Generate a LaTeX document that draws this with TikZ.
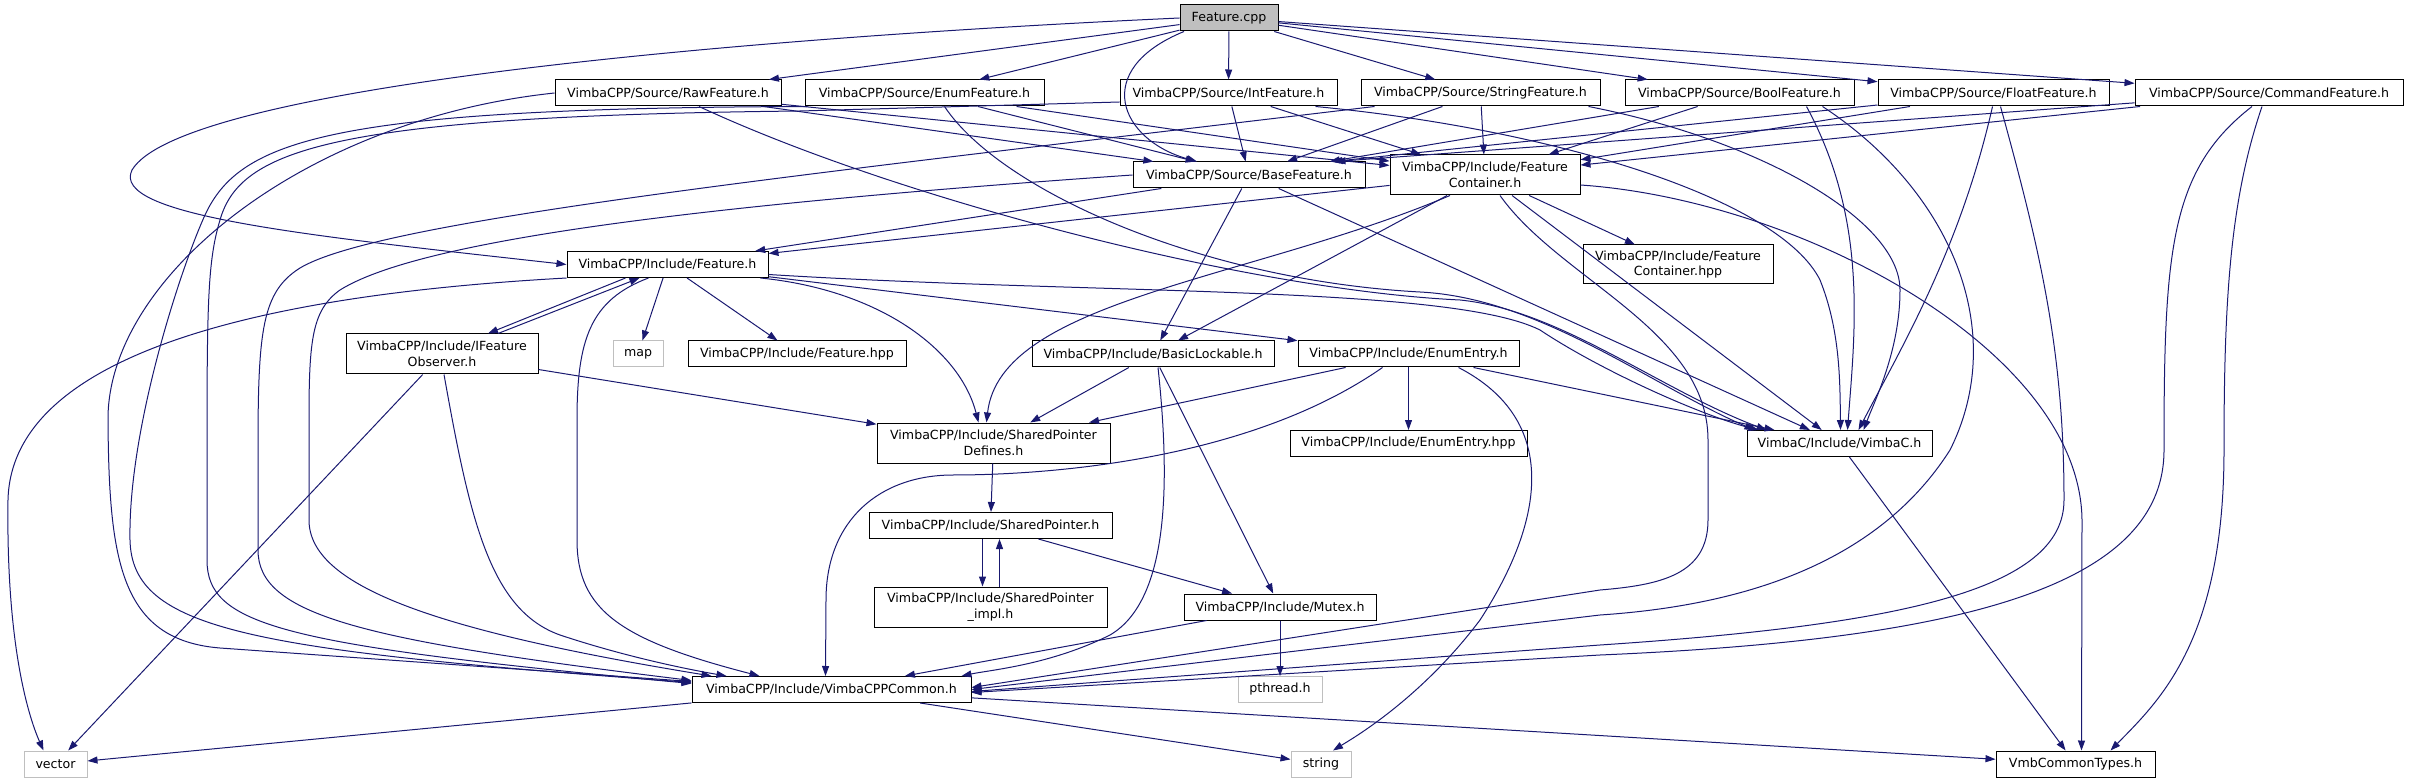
\documentclass[tikz,border=0pt]{standalone}
\usepackage{fontspec}
\setmainfont{DejaVu Sans}
\usetikzlibrary{arrows.meta}
\definecolor{edgeblue}{HTML}{191970}
\definecolor{sysgray}{HTML}{BFBFBF}

\begin{document}
\begin{tikzpicture}[x=1pt, y=-1pt,
    box/.style={draw=black, fill=white, line width=1pt, minimum height=26pt,
      inner xsep=3pt, inner ysep=2pt, align=center,
      font=\fontsize{12.6pt}{15.5pt}\selectfont},
    sysbox/.style={box, draw=sysgray},
    rootbox/.style={box, fill=sysgray},
    inc/.style={draw=edgeblue, line width=1pt, -{Triangle[length=10pt,width=7pt]}}]
    \useasboundingbox (0,0) rectangle (2409,783);

    % files
    \node[rootbox, minimum width=98pt] (fcpp) at (1229,18) {Feature.cpp};
    \node[box, minimum width=226pt] (raw) at (668,93) {VimbaCPP/Source/RawFeature.h};
    \node[box, minimum width=239pt] (enumf) at (924.5,93) {VimbaCPP/Source/EnumFeature.h};
    \node[box, minimum width=217pt] (intf) at (1228.5,93) {VimbaCPP/Source/IntFeature.h};
    \node[box, minimum width=239pt] (strf) at (1480.5,93) {VimbaCPP/Source/StringFeature.h};
    \node[box, minimum width=229pt] (boolf) at (1739.5,93) {VimbaCPP/Source/BoolFeature.h};
    \node[box, minimum width=231pt] (floatf) at (1993.5,93) {VimbaCPP/Source/FloatFeature.h};
    \node[box, minimum width=268pt] (cmdf) at (2269,93) {VimbaCPP/Source/CommandFeature.h};
    \node[box, minimum width=232pt] (base) at (1249,175) {VimbaCPP/Source/BaseFeature.h};
    \node[box, minimum width=190pt, minimum height=40pt] (cont) at (1485,175) {VimbaCPP/Include/Feature\\Container.h};
    \node[box, minimum width=201pt] (feat) at (667.5,264.5) {VimbaCPP/Include/Feature.h};
    \node[box, minimum width=190pt, minimum height=39pt] (conthpp) at (1678,264.5) {VimbaCPP/Include/Feature\\Container.hpp};
    \node[box, minimum width=192pt, minimum height=40pt] (obs) at (442,354) {VimbaCPP/Include/IFeature\\Observer.h};
    \node[sysbox, minimum width=50pt] (map) at (638,354) {map};
    \node[box, minimum width=218pt] (fhpp) at (797,354) {VimbaCPP/Include/Feature.hpp};
    \node[box, minimum width=242pt] (lock) at (1153,354) {VimbaCPP/Include/BasicLockable.h};
    \node[box, minimum width=221pt] (entry) at (1408.5,354) {VimbaCPP/Include/EnumEntry.h};
    \node[box, minimum width=233pt, minimum height=40pt] (spdef) at (993.5,443) {VimbaCPP/Include/SharedPointer\\Defines.h};
    \node[box, minimum width=237pt] (entryhpp) at (1408.5,443.5) {VimbaCPP/Include/EnumEntry.hpp};
    \node[box, minimum width=185pt] (vimbac) at (1839.5,443.5) {VimbaC/Include/VimbaC.h};
    \node[box, minimum width=243pt] (sp) at (990.5,525.5) {VimbaCPP/Include/SharedPointer.h};
    \node[box, minimum width=233pt, minimum height=40pt] (spimpl) at (990.5,607) {VimbaCPP/Include/SharedPointer\\\_impl.h};
    \node[box, minimum width=192pt] (mutex) at (1280,607) {VimbaCPP/Include/Mutex.h};
    \node[sysbox, minimum width=84pt] (pthread) at (1280,689.5) {pthread.h};
    \node[box, minimum width=279pt] (common) at (831.5,689.5) {VimbaCPP/Include/VimbaCPPCommon.h};
    \node[sysbox, minimum width=63pt] (vector) at (55.5,764) {vector};
    \node[sysbox, minimum width=60pt] (string) at (1321,764) {string};
    \node[box, minimum width=159pt] (vmb) at (2075.5,764) {VmbCommonTypes.h};

    % Feature.cpp
    \draw[inc] (fcpp.west) .. controls (700,40) and (180,90) .. (132,170) .. controls (110,215) and (300,235) .. (feat.west);
    \draw[inc] (fcpp) -- (raw);
    \draw[inc] (fcpp) -- (enumf);
    \draw[inc] ([xshift=-45pt]fcpp.south) .. controls (1090,70) and (1120,140) .. ([xshift=-52pt]base.north);
    \draw[inc] (fcpp) -- (intf);
    \draw[inc] (fcpp) -- (strf);
    \draw[inc] (fcpp) -- (boolf);
    \draw[inc] (fcpp) -- (floatf);
    \draw[inc] (fcpp) -- (cmdf);

    % source headers
    \draw[inc] (raw) -- (base);
    \draw[inc] (raw) -- (cont);
    \draw[inc] ([xshift=31pt]raw.south) .. controls (900,200) and (1250,290) .. (1460,300) .. controls (1560,310) and (1660,390) .. ([xshift=20pt]vimbac.north west);
    \draw[inc] (raw.west) .. controls (300,120) and (107,280) .. (108,420) .. controls (109,560) and (120,640) .. (220,648) -- ([yshift=8pt]common.west);
    \draw[inc] (enumf) -- (base);
    \draw[inc] (enumf) -- (cont);
    \draw[inc] ([xshift=20pt]enumf.south) .. controls (1000,190) and (1200,280) .. (1420,292) .. controls (1540,298) and (1650,385) .. ([xshift=8pt]vimbac.north west);
    \draw[inc] ([xshift=3pt]enumf.south west) .. controls (330,108) and (240,140) .. (205,215) .. controls (180,270) and (128,430) .. (130,540) .. controls (132,630) and (250,650) .. ([yshift=7pt]common.west);
    \draw[inc] (intf) -- (base);
    \draw[inc] (intf) -- (cont);
    \draw[inc] ([xshift=87pt]intf.south) .. controls (1560,130) and (1780,200) .. (1820,280) .. controls (1840,330) and (1840,380) .. ([xshift=1pt]vimbac.north);
    \draw[inc] ([yshift=-9pt]intf.west) -- (800,111) .. controls (330,116) and (240,150) .. (220,220) .. controls (208,260) and (207,300) .. (207,450) -- (207,560) .. controls (207,625) and (280,645) .. ([yshift=6pt]common.west);
    \draw[inc] (strf) -- (base);
    \draw[inc] (strf) -- (cont);
    \draw[inc] ([xshift=-12pt]strf.south east) .. controls (1760,140) and (1900,220) .. (1900,290) .. controls (1900,350) and (1875,400) .. ([xshift=24pt]vimbac.north);
    \draw[inc] ([xshift=-106pt]strf.south) .. controls (800,175) and (380,220) .. (300,268) .. controls (262,292) and (258,330) .. (258,450) -- (258,550) .. controls (258,615) and (360,640) .. ([yshift=9pt]common.west);
    \draw[inc] (boolf) -- (base);
    \draw[inc] (boolf) -- (cont);
    \draw[inc] ([xshift=67pt]boolf.south) .. controls (1868,220) and (1855,330) .. ([xshift=8pt]vimbac.north);
    \draw[inc] ([xshift=83pt]boolf.south) .. controls (1950,190) and (2010,330) .. (1950,450) .. controls (1880,560) and (1750,605) .. (1600,615) -- (common.east);
    \draw[inc] (floatf) -- ([xshift=-33pt]base.north east);
    \draw[inc] (floatf) -- (cont);
    \draw[inc] ([xshift=-1pt]floatf.south) .. controls (1960,250) and (1900,350) .. ([xshift=19pt]vimbac.north);
    \draw[inc] ([xshift=7pt]floatf.south) .. controls (2040,250) and (2064,350) .. (2064,500) .. controls (2064,590) and (1900,625) .. (1600,645) -- ([yshift=-2pt]common.east);
    \draw[inc] (cmdf) -- ([xshift=-30pt]base.north east);
    \draw[inc] (cmdf) -- (cont);
    \draw[inc] ([xshift=-17pt]cmdf.south) .. controls (2170,170) and (2164,250) .. (2164,450) .. controls (2164,590) and (1950,640) .. (1600,655) -- ([yshift=-3pt]common.east);
    \draw[inc] ([xshift=-7pt]cmdf.south) .. controls (2230,200) and (2224,300) .. (2224,450) .. controls (2224,640) and (2160,700) .. ([xshift=35pt]vmb.north);

    % BaseFeature.h
    \draw[inc] (base) -- (feat);
    \draw[inc] (base) -- (lock);
    \draw[inc] (base) -- (vimbac);
    \draw[inc] (base.west) .. controls (700,205) and (420,240) .. (340,290) .. controls (312,310) and (309,340) .. (309,420) -- (309,520) .. controls (309,585) and (430,630) .. ([xshift=20pt]common.north west);

    % FeatureContainer.h
    \draw[inc] (cont) -- (feat);
    \draw[inc] (cont) -- (lock);
    \draw[inc] ([xshift=-35pt]cont.south) .. controls (1250,280) and (1000,300) .. ([xshift=-7pt]spdef.north);
    \draw[inc] (cont) -- (conthpp);
    \draw[inc] (cont) -- (vimbac);
    \draw[inc] ([yshift=-10pt]cont.east) .. controls (1800,200) and (2080,350) .. (2082,520) -- ([xshift=6pt]vmb.north);
    \draw[inc] ([xshift=15pt]cont.south) .. controls (1560,280) and (1708,330) .. (1708,440) -- (1708,520) .. controls (1708,575) and (1660,585) .. (1600,590) -- ([yshift=2pt]common.east);

    % Feature.h
    \draw[inc] ([xshift=-42pt]feat.south) -- ([xshift=46pt]obs.north);
    \draw[inc] ([xshift=56pt]obs.north) -- ([xshift=-28pt]feat.south);
    \draw[inc] (feat) -- (map);
    \draw[inc] (feat) -- (fhpp);
    \draw[inc] (feat) -- (entry);
    \draw[inc] ([xshift=-8pt]feat.south east) .. controls (880,290) and (960,350) .. ([xshift=-15pt]spdef.north);
    \draw[inc] ([yshift=-10pt]feat.east) .. controls (1100,295) and (1450,285) .. (1540,330) .. controls (1600,370) and (1700,415) .. ([xshift=12pt]vimbac.north west);
    \draw[inc] ([xshift=-19pt]feat.south) .. controls (590,300) and (577,340) .. (577,420) -- (577,540) .. controls (577,610) and (620,640) .. ([xshift=68pt]common.north west);
    \draw[inc] (feat.south west) .. controls (350,290) and (12,330) .. (8,500) .. controls (6,650) and (30,720) .. ([xshift=-12pt]vector.north);

    % IFeatureObserver.h
    \draw[inc] (obs) -- (spdef);
    \draw[inc] ([xshift=2pt]obs.south) .. controls (470,520) and (490,610) .. (560,635) .. controls (620,655) and (680,668) .. ([xshift=35pt]common.north west);
    \draw[inc] (obs) -- (vector);

    % BasicLockable.h, EnumEntry.h
    \draw[inc] (lock) -- (spdef);
    \draw[inc] (lock) -- (mutex);
    \draw[inc] ([xshift=5pt]lock.south) .. controls (1170,480) and (1170,600) .. (1110,635) .. controls (1050,665) and (990,670) .. ([xshift=-10pt]common.north east);
    \draw[inc] (entry) -- (spdef);
    \draw[inc] (entry) -- (entryhpp);
    \draw[inc] (entry) -- (vimbac);
    \draw[inc] ([xshift=-26pt]entry.south) .. controls (1250,460) and (1050,475) .. (953,475) .. controls (880,475) and (826,520) .. (826,600) -- ([xshift=-6pt]common.north);
    \draw[inc] ([xshift=50pt]entry.south) .. controls (1560,420) and (1545,520) .. (1480,620) .. controls (1420,700) and (1350,740) .. ([xshift=12pt]string.north);

    % shared pointer, mutex
    \draw[inc] (spdef) -- (sp);
    \draw[inc] ([xshift=-8pt]sp.south) -- ([xshift=-8pt]spimpl.north);
    \draw[inc] ([xshift=9pt]spimpl.north) -- ([xshift=9pt]sp.south);
    \draw[inc] (sp) -- (mutex);
    \draw[inc] (mutex) -- (pthread);
    \draw[inc] (mutex) -- (common);

    % bottom
    \draw[inc] (common) -- (vector);
    \draw[inc] (common) -- (string);
    \draw[inc] (common) -- (vmb);
    \draw[inc] (vimbac) -- (vmb);
\end{tikzpicture}
\end{document}
